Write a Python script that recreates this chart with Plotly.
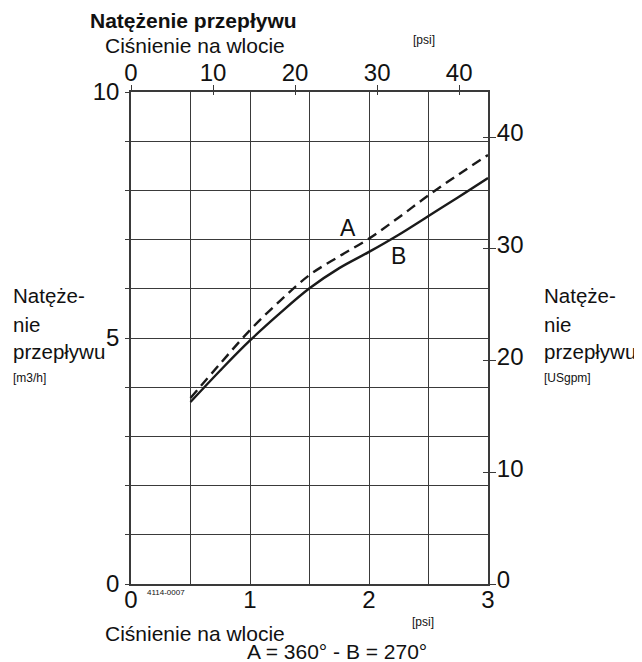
import plotly.graph_objects as go

# ---- data ----
pressure_bar = [0.5, 0.75, 1.0, 1.25, 1.5, 1.75, 2.0, 2.25, 2.5, 2.75, 3.0]
flow_A = [3.78, 4.48, 5.16, 5.75, 6.28, 6.66, 7.02, 7.45, 7.90, 8.32, 8.72]
flow_B = [3.70, 4.34, 4.95, 5.50, 6.01, 6.42, 6.75, 7.10, 7.48, 7.86, 8.25]

bottom_ticks = [0, 0.5, 1, 1.5, 2, 2.5, 3]
bottom_labels = ["0", "", "1", "", "2", "", "3"]
left_ticks = list(range(0, 11))
left_labels = ["0", "", "", "", "", "5", "", "", "", "", "10"]
top_ticks = [0, 10, 20, 30, 40]
right_ticks = [0, 10, 20, 30, 40]

BAR_TO_PSI = 14.5038
M3H_TO_USGPM = 4.40287

FONT = "Liberation Sans, Arial, sans-serif"
INK = "#1a1a1a"
GRID = "#3a3a3a"

# page body has an 8px margin: figure origin sits at (8, 8)
OFF = 8
W, H = 642 - OFF, 662 - OFF
# plot area in page pixels
PL, PR, PT, PB = 131, 488, 92, 584
L, R, T, B = PL - OFF, PR - OFF, PT - OFF, PB - OFF


def pxx(x):
    return (x - PL) / (PR - PL)


def pxy(y):
    return (PB - y) / (PB - PT)


fig = go.Figure()
fig.add_trace(go.Scatter(x=pressure_bar, y=flow_A, mode="lines",
                         line=dict(color=INK, width=2.4, dash="10px,6px", shape="spline"),
                         hoverinfo="skip", showlegend=False))
fig.add_trace(go.Scatter(x=pressure_bar, y=flow_B, mode="lines",
                         line=dict(color=INK, width=2.4, shape="spline"),
                         hoverinfo="skip", showlegend=False))
# empty helper traces so the secondary axes are drawn
for xa, ya in [("x2", "y"), ("x3", "y"), ("x", "y2"), ("x", "y3")]:
    fig.add_trace(go.Scatter(x=[], y=[], xaxis=xa, yaxis=ya, hoverinfo="skip", showlegend=False))

tickfont = dict(family=FONT, size=24, color="#111")

fig.update_layout(
    width=W, height=H,
    margin=dict(l=L, r=W - R, t=T, b=H - B),
    paper_bgcolor="white", plot_bgcolor="white",
    font=dict(family=FONT, color="#111"),
    xaxis=dict(range=[0, 3], tickvals=bottom_ticks, ticktext=bottom_labels,
               showgrid=True, gridcolor=GRID, gridwidth=1.3, zeroline=False,
               showline=True, linecolor=GRID, linewidth=1.5, mirror=True,
               ticks="", tickfont=tickfont, ticklabelstandoff=-7, fixedrange=True),
    yaxis=dict(range=[0, 10], tickvals=left_ticks, ticktext=left_labels,
               showgrid=True, gridcolor=GRID, gridwidth=1.3, zeroline=False,
               showline=True, linecolor=GRID, linewidth=1.5, mirror=True,
               ticks="outside", ticklen=4, tickcolor=GRID, tickwidth=1.3,
               tickfont=tickfont, ticklabelstandoff=1, fixedrange=True),
    xaxis2=dict(overlaying="x", side="top", anchor="y", range=[0, 3 * BAR_TO_PSI],
                tickvals=top_ticks, showgrid=False, zeroline=False, showline=False,
                ticks="outside", ticklen=6, tickcolor=GRID, tickwidth=1.3,
                tickfont=tickfont, ticklabelstandoff=-6, fixedrange=True),
    xaxis3=dict(overlaying="x", side="top", anchor="y", range=[0, 3 * BAR_TO_PSI],
                tickvals=top_ticks[1:], showgrid=False, zeroline=False, showline=False,
                ticks="inside", ticklen=3, tickcolor=GRID, tickwidth=1.3,
                showticklabels=False, fixedrange=True),
    yaxis2=dict(overlaying="y", side="right", anchor="x", range=[0, 10 * M3H_TO_USGPM],
                tickvals=right_ticks, showgrid=False, zeroline=False, showline=False,
                ticks="outside", ticklen=7, tickcolor=GRID, tickwidth=1.3,
                tickfont=tickfont, ticklabelstandoff=-4, ticklabelshift=-4, fixedrange=True),
    yaxis3=dict(overlaying="y", side="right", anchor="x", range=[0, 10 * M3H_TO_USGPM],
                tickvals=right_ticks[1:], showgrid=False, zeroline=False, showline=False,
                ticks="inside", ticklen=5, tickcolor=GRID, tickwidth=1.3,
                showticklabels=False, fixedrange=True),
)

ann = []


def txt(text, x, y, size=21, xanchor="left", yanchor="middle", bold=False):
    ann.append(dict(text=f"<b>{text}</b>" if bold else text, x=pxx(x), y=pxy(y),
                    xref="paper", yref="paper", xanchor=xanchor, yanchor=yanchor,
                    showarrow=False, font=dict(family=FONT, size=size, color="#111")))


txt("Natężenie przepływu", 88, 20, bold=True)
txt("Ciśnienie na wlocie", 103, 45)
txt("[psi]", 411, 40, size=12)
txt("Ciśnienie na wlocie", 103, 633)
txt("[psi]", 410, 622, size=12)
txt("A = 360° - B = 270°", 245, 651)
txt("4114-0007", 145, 592, size=8)
for x0, unit in [(11, "[m3/h]"), (542, "[USgpm]")]:
    txt("Natęże-", x0, 295, size=20.5)
    txt("nie", x0, 324, size=20.5)
    txt("przepływu", x0, 351, size=20.5)
    txt(unit, x0, 378, size=12)

# curve labels in data coordinates
for label, xv, yv in [("A", 1.82, 7.24), ("B", 2.25, 6.67)]:
    ann.append(dict(text=label, x=xv, y=yv, xref="x", yref="y", showarrow=False,
                    font=dict(family=FONT, size=23, color="#111")))

fig.update_layout(annotations=ann)
fig.write_html("out.html")
